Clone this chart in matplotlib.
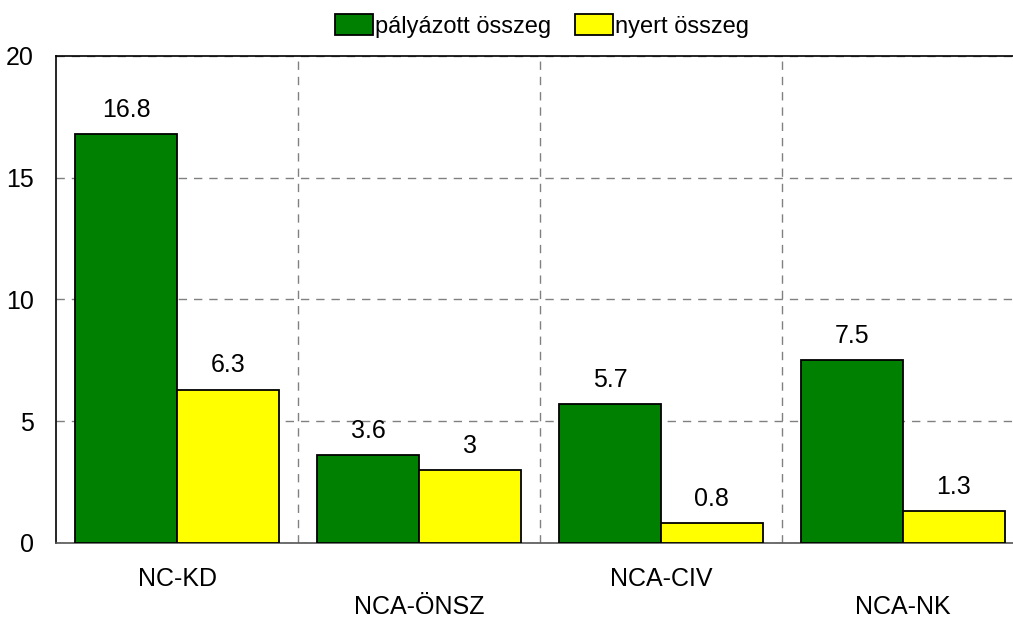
import matplotlib
matplotlib.use("Agg")
import matplotlib.pyplot as plt
from matplotlib.patches import Patch
import numpy as np

# ------------------ 数据 ------------------
categories = ["NC-KD", "NCA-ÖNSZ", "NCA-CIV", "NCA-NK"]
palyazott = [16.8, 3.6, 5.7, 7.5]
nyert = [6.3, 3.0, 0.8, 1.3]
series_names = ["pályázott összeg", "nyert összeg"]
yticks = [0, 5, 10, 15, 20]

# ------------------ 字体 ------------------
plt.rcParams["font.family"] = ["Liberation Sans", "DejaVu Sans"]
fs = 18

fig = plt.figure(figsize=(10.13, 6.18), dpi=100)
ax = fig.add_axes([0.0553, 0.1214, 0.9556, 0.788])

x = np.arange(len(categories)) + 0.5
w = 0.42
b1 = ax.bar(x - w / 2, palyazott, w, color="#008000", edgecolor="black", linewidth=1.3, zorder=3)
b2 = ax.bar(x + w / 2, nyert, w, color="#FFFF00", edgecolor="black", linewidth=1.3, zorder=3)

for bars, vals in ((b1, palyazott), (b2, nyert)):
    for r, v in zip(bars, vals):
        ax.text(r.get_x() + r.get_width() / 2, v + 0.5, "%g" % v,
                ha="center", va="bottom", fontsize=fs)

ax.set_xlim(0, 4)
ax.set_ylim(0, 20)
ax.set_yticks(yticks)
ax.set_yticklabels([str(t) for t in yticks], fontsize=fs)
ax.set_xticks(x)
ax.set_xticklabels(categories, fontsize=fs)
ax.set_xticks([1, 2, 3], minor=True)
ax.tick_params(axis="both", which="both", length=0)
ax.tick_params(axis="y", pad=16)
ax.tick_params(axis="x", pad=17)
# 错开标签: 第二、四个往下移
for i, lab in enumerate(ax.get_xticklabels()):
    if i % 2 == 1:
        lab.set_y(-0.058)

ax.grid(axis="y", which="major", color="#808080", linestyle=(0, (6, 5)), linewidth=1, zorder=0)
ax.grid(axis="x", which="minor", color="#808080", linestyle=(0, (6, 5)), linewidth=1, zorder=0)
ax.grid(axis="x", which="major", visible=False)

for s in ["left", "top"]:
    ax.spines[s].set_color("black")
    ax.spines[s].set_linewidth(1.2)
ax.spines["bottom"].set_color("#555555")
ax.spines["bottom"].set_linewidth(1.2)
ax.spines["right"].set_visible(False)

handles = [Patch(facecolor="#008000", edgecolor="black", linewidth=1.3),
           Patch(facecolor="#FFFF00", edgecolor="black", linewidth=1.3)]
fig.legend(handles, series_names, loc="center", bbox_to_anchor=(0.535, 0.958), ncol=2,
           frameon=False, fontsize=17, handlelength=1.6, handleheight=1.0,
           handletextpad=0.1, columnspacing=1.0)

fig.savefig("out.png", dpi=100)
